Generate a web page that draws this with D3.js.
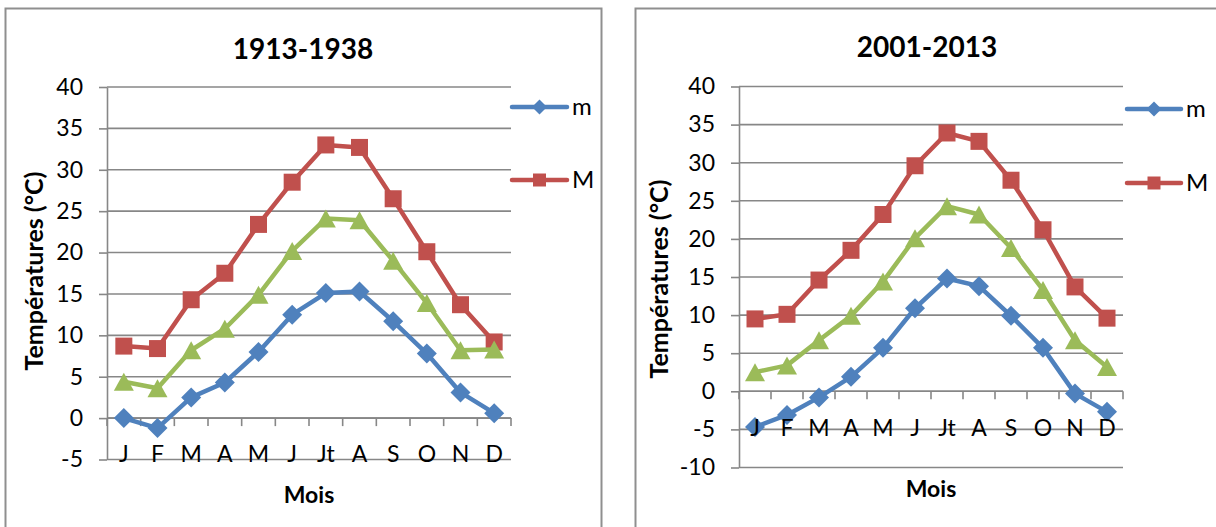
<!DOCTYPE html>
<html>
<head>
<meta charset="utf-8">
<script src="https://cdn.jsdelivr.net/npm/d3@7"></script>
<style>
  html, body { margin: 0; padding: 0; background: #ffffff; }
  svg { display: block; font-family: Lato, "Open Sans", sans-serif; }
</style>
</head>
<body>
<svg id="chart" width="1216" height="527"></svg>
<script>
// ---------- DATA ----------
const months = ["J", "F", "M", "A", "M", "J", "Jt", "A", "S", "O", "N", "D"];

const titles = ["1913-1938", "2001-2013"];
const seriesNames = ["m", "M"];

const min1913  = [0.0, -1.2, 2.5, 4.3, 8.0, 12.5, 15.1, 15.3, 11.7, 7.8, 3.1, 0.6];
const max1913  = [8.7, 8.4, 14.3, 17.5, 23.4, 28.5, 33.0, 32.7, 26.5, 20.1, 13.7, 9.2];
const mean1913 = [4.4, 3.6, 8.2, 10.8, 14.9, 20.2, 24.1, 23.9, 19.0, 13.9, 8.2, 8.3];

const min2001  = [-4.7, -3.1, -0.8, 1.9, 5.7, 10.9, 14.8, 13.8, 9.9, 5.7, -0.3, -2.7];
const max2001  = [9.5, 10.1, 14.6, 18.5, 23.2, 29.6, 33.9, 32.8, 27.7, 21.2, 13.7, 9.6];
const mean2001 = [2.5, 3.4, 6.7, 9.9, 14.4, 20.1, 24.3, 23.2, 18.8, 13.3, 6.7, 3.2];

const yTicks1913 = [-5, 0, 5, 10, 15, 20, 25, 30, 35, 40];
const yTicks2001 = [-10, -5, 0, 5, 10, 15, 20, 25, 30, 35, 40];

const yTitle = "Températures (°C)";
const xTitle = "Mois";

// ---------- STYLE ----------
const COL = { m: "#4F81BD", M: "#C0504D", g: "#9BBB59" };
const GRID = "#878787";

const svg = d3.select("#chart");

// panel frames
svg.append("rect").attr("x", 5.5).attr("y", 8.5).attr("width", 596).attr("height", 540)
  .attr("fill", "none").attr("stroke", "#8f8f8f").attr("stroke-width", 2);
svg.append("rect").attr("x", 635.5).attr("y", 8.5).attr("width", 600).attr("height", 540)
  .attr("fill", "none").attr("stroke", "#8f8f8f").attr("stroke-width", 2);

const markers = {
  diamond: r => `M0,${-r}L${r},0L0,${r}L${-r},0Z`,
  square: r => `M${-r},${-r}H${r}V${r}H${-r}Z`,
  triangle: r => `M0,${-r * 0.9}L${r},${r * 0.9}L${-r},${r * 0.9}Z`
};

function drawPanel(cfg) {
  const g = svg.append("g");
  const x = d3.scaleBand().domain(d3.range(months.length)).range([cfg.x0, cfg.x1]);
  const y = d3.scaleLinear().domain(cfg.yDomain).range([cfg.yBottom, cfg.yTop]);

  // gridlines
  g.append("g").selectAll("line").data(cfg.ticks).join("line")
    .attr("x1", cfg.x0).attr("x2", cfg.x1)
    .attr("y1", d => y(d)).attr("y2", d => y(d))
    .attr("stroke", GRID).attr("stroke-width", 1.6);

  // y axis
  const yAxis = d3.axisLeft(y).tickValues(cfg.ticks).tickFormat(d => String(d))
    .tickSizeInner(8).tickSizeOuter(0).tickPadding(16);
  const ya = g.append("g").attr("transform", `translate(${cfg.x0},0)`).call(yAxis);
  ya.select(".domain").attr("stroke", GRID).attr("stroke-width", 1.6);
  ya.selectAll(".tick line").attr("stroke", GRID).attr("stroke-width", 1.6);
  ya.selectAll(".tick text").attr("font-size", 23).attr("fill", "#000")
    .attr("font-family", "Lato, sans-serif");

  // x axis at zero: line + boundary ticks
  const y0 = y(0);
  g.append("line").attr("x1", cfg.x0).attr("x2", cfg.x1).attr("y1", y0).attr("y2", y0)
    .attr("stroke", GRID).attr("stroke-width", 1.6);
  const bounds = d3.range(months.length + 1).map(i => i < months.length ? x(i) : cfg.x1);
  g.append("g").selectAll("line").data(bounds).join("line")
    .attr("x1", d => d).attr("x2", d => d).attr("y1", y0).attr("y2", y0 + 8)
    .attr("stroke", GRID).attr("stroke-width", 1.6);

  // series
  const series = [
    { vals: cfg.m, col: COL.m, mk: markers.diamond(10) },
    { vals: cfg.M, col: COL.M, mk: markers.square(8.5) },
    { vals: cfg.g, col: COL.g, mk: markers.triangle(10) }
  ];
  const line = d3.line().x((d, i) => x(i) + x.bandwidth() / 2).y(d => y(d));
  series.forEach(s => {
    g.append("path").datum(s.vals).attr("d", line)
      .attr("fill", "none").attr("stroke", s.col).attr("stroke-width", 4.5)
      .attr("stroke-linejoin", "round").attr("stroke-linecap", "round");
    g.append("g").selectAll("path").data(s.vals).join("path")
      .attr("d", s.mk)
      .attr("transform", (d, i) => `translate(${x(i) + x.bandwidth() / 2},${y(d)})`)
      .attr("fill", s.col);
  });

  // x labels (drawn on top)
  const xAxis = d3.axisBottom(x).tickFormat(i => months[i]).tickSize(0).tickPadding(28);
  const xa = g.append("g").attr("transform", `translate(0,${y0})`).call(xAxis);
  xa.select(".domain").remove();
  xa.selectAll(".tick text").attr("font-size", 23).attr("fill", "#000")
    .attr("font-family", "Lato, sans-serif");

  // title
  g.append("text").attr("x", cfg.titleX).attr("y", cfg.titleY).attr("text-anchor", "middle")
    .attr("font-size", 28).attr("font-weight", "bold").text(cfg.title);

  // y title
  g.append("text").attr("transform", `translate(${cfg.yTitleX},${cfg.yTitleY}) rotate(-90)`)
    .attr("text-anchor", "middle").attr("font-size", 25).attr("font-weight", "bold").text(yTitle);

  // x title
  g.append("text").attr("x", cfg.xTitleX).attr("y", cfg.xTitleY).attr("text-anchor", "middle")
    .attr("font-size", 23).attr("font-weight", "bold").text(xTitle);

  // legend (m, M)
  const leg = [
    { name: seriesNames[0], col: COL.m, mk: markers.diamond(7.5), y: cfg.legY[0] },
    { name: seriesNames[1], col: COL.M, mk: markers.square(6.5), y: cfg.legY[1] }
  ];
  leg.forEach(l => {
    g.append("line").attr("x1", cfg.legX0).attr("x2", cfg.legX1).attr("y1", l.y).attr("y2", l.y)
      .attr("stroke", l.col).attr("stroke-width", 4.5).attr("stroke-linecap", "round");
    g.append("path").attr("d", l.mk)
      .attr("transform", `translate(${(cfg.legX0 + cfg.legX1) / 2},${l.y})`).attr("fill", l.col);
    g.append("text").attr("x", cfg.legX1 + 5).attr("y", l.y + 8).attr("font-size", 24)
      .attr("fill", "#000").text(l.name);
  });
}

drawPanel({
  title: titles[0], m: min1913, M: max1913, g: mean1913, ticks: yTicks1913,
  x0: 107, x1: 511, yDomain: [-5, 40], yBottom: 459.5, yTop: 87,
  titleX: 303, titleY: 59, yTitleX: 43, yTitleY: 271, xTitleX: 309, xTitleY: 503,
  legX0: 512, legX1: 567, legY: [107, 180]
});

drawPanel({
  title: titles[1], m: min2001, M: max2001, g: mean2001, ticks: yTicks2001,
  x0: 739, x1: 1123, yDomain: [-10, 40], yBottom: 467.5, yTop: 86.5,
  titleX: 927, titleY: 57, yTitleX: 668, yTitleY: 279, xTitleX: 931, xTitleY: 497,
  legX0: 1127, legX1: 1181, legY: [109, 183]
});
</script>
</body>
</html>
